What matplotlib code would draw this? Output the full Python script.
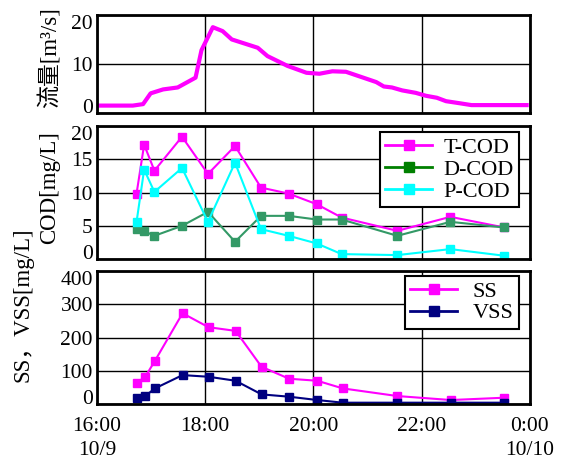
import matplotlib
matplotlib.use("Agg")
import matplotlib.pyplot as plt
import matplotlib.transforms as mtransforms
from matplotlib.lines import Line2D

# flow rate (hours since 0:00 of 10/9)
flow_t = [16.0, 16.66, 16.85, 16.99, 17.22, 17.49, 17.82, 17.93, 18.14, 18.32,
          18.49, 18.97, 19.15, 19.52, 19.87, 20.11, 20.35, 20.60, 20.84, 21.16,
          21.30, 21.45, 21.64, 21.89, 22.08, 22.28, 22.45, 22.69, 22.92, 23.94]
flow_q = [1.5, 1.5, 1.8, 4.0, 4.8, 5.2, 7.2, 12.8, 17.5, 16.7,
          15.0, 13.3, 11.6, 9.6, 8.2, 8.0, 8.5, 8.4, 7.5, 6.3,
          5.4, 5.2, 4.6, 4.1, 3.5, 3.1, 2.4, 2.0, 1.6, 1.6]

cod_t = [16.73, 16.87, 17.06, 17.57, 18.05, 18.55, 19.03, 19.54, 20.06, 20.52,
         21.55, 22.53, 23.53]
t_cod = [9.85, 17.2, 13.3, 18.4, 12.8, 17.0, 10.75, 9.85, 8.25, 6.25, 4.25, 6.35, 4.75]
d_cod = [4.45, 4.2, 3.5, 5.0, 7.1, 2.6, 6.5, 6.5, 5.95, 5.95, 3.5, 5.6, 4.75]
p_cod = [5.6, 13.45, 10.1, 13.7, 5.6, 14.5, 4.5, 3.5, 2.35, 0.75, 0.6, 1.5, 0.5]

ss_t = [16.74, 16.89, 17.07, 17.58, 18.06, 18.56, 19.04, 19.55, 20.07, 20.54,
        21.55, 22.54, 23.53]
ss = [64, 82, 130, 273, 231, 220, 112, 76, 70, 47, 24, 12, 19]
vss = [17, 24, 47, 87, 82, 70, 29, 22, 12, 4, 4, 4, 4]

x_ticks = [16, 18, 20, 22, 24]
x_labels = ["16:00\n10/9", "18:00", "20:00", "22:00", "0:00\n10/10"]
flow_ticks = [0, 10, 20]
cod_ticks = [0, 5, 10, 15, 20]
ss_ticks = [0, 100, 200, 300, 400]

plt.rcParams["font.family"] = ["Liberation Serif", "Noto Sans CJK JP"]
plt.rcParams["font.size"] = 15.5

fig = plt.figure(figsize=(5.71, 4.61), dpi=100)
ax1 = fig.add_axes([0.170, 0.755, 0.758, 0.2126])
ax2 = fig.add_axes([0.170, 0.438, 0.758, 0.2885])
ax3 = fig.add_axes([0.170, 0.1236, 0.758, 0.2885])

mk = dict(marker="s", markersize=6, linewidth=1.5)
leg_kw = dict(loc="upper right", frameon=True, fancybox=False, edgecolor="black",
              framealpha=1, fontsize=16, borderpad=0.25, labelspacing=0.05,
              handlelength=2.1, borderaxespad=0)

ax1.plot(flow_t, flow_q, color="#FF00FF", linewidth=3)
ax1.set_ylim(0, 20)

ax2.plot(cod_t, t_cod, color="#FF00FF", **mk)
ax2.plot(cod_t, d_cod, color="#339966", **mk)
ax2.plot(cod_t, p_cod, color="#00FFFF", **mk)
ax2.set_ylim(0, 20)
# legend swatches in the original use a plain green for D-COD
cod_handles = [Line2D([], [], color=c, marker="s", markersize=7.5, linewidth=2)
               for c in ("#FF00FF", "#008000", "#00FFFF")]
leg2 = ax2.legend(cod_handles, ["T-COD", "D-COD", "P-COD"],
                  bbox_to_anchor=(0.975, 0.955), handletextpad=0.5, **leg_kw)
leg2.get_frame().set_linewidth(1.5)

ax3.plot(ss_t, ss, color="#FF00FF", **mk)
ax3.plot(ss_t, vss, color="#000080", **mk)
ax3.set_ylim(0, 400)
ss_handles = [Line2D([], [], color=c, marker="s", markersize=7.5, linewidth=2)
              for c in ("#FF00FF", "#000080")]
leg3 = ax3.legend(ss_handles, ["SS", "VSS"], bbox_to_anchor=(0.975, 0.965),
                  handletextpad=0.7, **leg_kw)
leg3.get_frame().set_linewidth(1.5)

for ax, yt in ((ax1, flow_ticks), (ax2, cod_ticks), (ax3, ss_ticks)):
    ax.set_xlim(16, 24)
    ax.set_xticks(x_ticks)
    ax.set_yticks(yt)
    ax.set_yticklabels([])
    ax.grid(True, color="black", linewidth=1)
    ax.set_axisbelow(True)
    ax.tick_params(length=0, pad=3)
    for s in ax.spines.values():
        s.set_linewidth(2)
    if ax is not ax3:
        ax.set_xticklabels([])
    # y tick labels: end values pulled inside the axes like the original
    trans = mtransforms.blended_transform_factory(ax.transAxes, ax.transData)
    trans = trans + mtransforms.ScaledTranslation(-3 / 72, 0, fig.dpi_scale_trans)
    for i, v in enumerate(yt):
        va = "center_baseline"
        if i == 0:
            va = "baseline"
        elif i == len(yt) - 1:
            va = "top"
        ax.text(0, v, str(v), transform=trans, ha="right", va=va)
ax3.set_xticklabels(x_labels, linespacing=1.4)
ax3.tick_params(axis="x", pad=9)

fig.text(0.088, 0.876, "流量[m³/s]", rotation=90, ha="center", va="center", fontsize=16.5)
fig.text(0.087, 0.593, "COD[mg/L]", rotation=90, ha="center", va="center", fontsize=16.5)
fig.text(0.040, 0.34, "SS，VSS[mg/L]", rotation=90, ha="center", va="center", fontsize=16.5)

fig.savefig("out.png", dpi=100)
